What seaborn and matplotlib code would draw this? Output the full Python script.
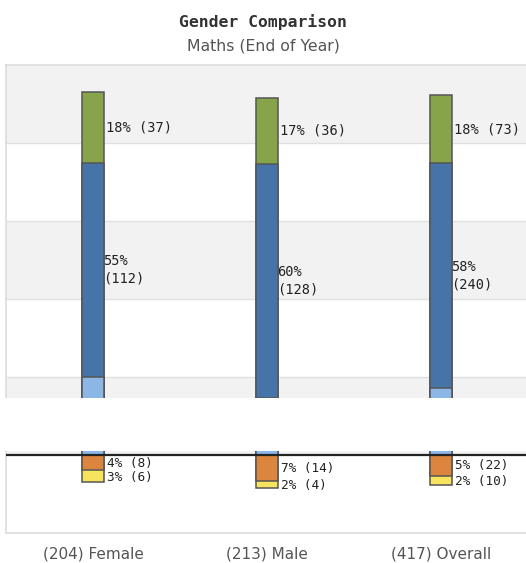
import matplotlib
matplotlib.use("Agg")
import matplotlib.pyplot as plt
import seaborn as sns
import numpy as np
from matplotlib.patches import Rectangle

# Pupil counts per attainment band
groups = ["Female", "Male", "Overall"]
group_totals = [204, 213, 417]
above_counts = [37, 36, 73]       # above expected (green)
expected_counts = [112, 128, 240]  # at expected (blue)
below_counts = [8, 14, 22]        # below expected (orange)
well_below_counts = [6, 4, 10]    # well below expected (yellow)

green_labels = ["18% (37)", "17% (36)", "18% (73)"]
blue_labels = ["55%\n(112)", "60%\n(128)", "58%\n(240)"]
orange_labels = ["4% (8)", "7% (14)", "5% (22)"]
yellow_labels = ["3% (6)", "2% (4)", "2% (10)"]

totals = np.array(group_totals, dtype=float)
above = np.array(above_counts) / totals * 100
expected = np.array(expected_counts) / totals * 100
below = np.array(below_counts) / totals * 100
well_below = np.array(well_below_counts) / totals * 100
# remaining pupils working towards expected (light blue)
towards = 100 - above - expected - below - well_below

C_GREEN = "#88a44a"
C_BLUE = "#4673a8"
C_LBLUE = "#8cb6e6"
C_ORANGE = "#dc853e"
C_YELLOW = "#f8e45c"
EDGE = "#555555"

sns.set_style("white")
fig = plt.figure(figsize=(5.26, 5.63), dpi=100)
W, H = 526, 563
ax = fig.add_axes([6 / W, 30 / H, 522 / W, 468 / H])

# banded background
for lo, hi, c in [(80, 100, "#f2f2f2"), (60, 80, "white"), (40, 60, "#f2f2f2"),
                  (20, 40, "white"), (0, 20, "#f2f2f2"), (-20, 0, "white")]:
    ax.axhspan(lo, hi, color=c, zorder=0, lw=0)
for g in [20, 40, 60, 80]:
    ax.axhline(g, color="#e0e0e0", lw=1, zorder=0.5)

bw = 0.126
labels_x = [f"({n}) {g}" for n, g in zip(group_totals, groups)]
common = dict(width=bw, edgecolor=EDGE, linewidth=1.1, saturation=1,
              errorbar=None, ax=ax, zorder=2)

# stacked positive segments, drawn from the cumulative top down
sns.barplot(x=labels_x, y=towards + expected + above, color=C_GREEN, **common)
sns.barplot(x=labels_x, y=towards + expected, color=C_BLUE, **common)
sns.barplot(x=labels_x, y=towards, color=C_LBLUE, **common)
# negative segments
sns.barplot(x=labels_x, y=-(below + well_below), color=C_YELLOW, **common)
sns.barplot(x=labels_x, y=-below, color=C_ORANGE, **common)

ax.axhline(0, color="#222222", lw=1.6, zorder=3)

mono = "DejaVu Sans Mono"
for i in range(3):
    xr = i + bw / 2
    ax.text(xr + 0.01, towards[i] + expected[i] + above[i] / 2, green_labels[i],
            fontsize=9.8, family=mono, va="center", ha="left", color="#222", zorder=4)
    ax.text(xr - 0.005, towards[i] + expected[i] / 2, blue_labels[i],
            fontsize=9.8, family=mono, va="center", ha="left", color="#222",
            linespacing=1.3, zorder=4)
    ax.text(xr + 0.02, -below[i] / 2 - 0.1, orange_labels[i],
            fontsize=9.2, family=mono, va="center", ha="left", color="#222", zorder=4)
    ax.text(xr + 0.02, -below[i] - well_below[i] / 2 - 0.4, yellow_labels[i],
            fontsize=9.2, family=mono, va="center", ha="left", color="#222", zorder=4)

ax.set_xlim(-0.5, 2.5)
ax.set_ylim(-20, 100)
ax.set_yticks([])
ax.set_xlabel("")
ax.set_ylabel("")
ax.tick_params(axis="x", length=0, pad=10, labelsize=11, labelcolor="#555555")
for s in ax.spines.values():
    s.set_color("#dddddd")
    s.set_linewidth(1.2)

fig.text(0.5, 1 - 22 / H, "Gender Comparison", ha="center", va="center",
         fontsize=11.8, family=mono, fontweight="bold", color="#333333")
fig.text(0.5, 1 - 46 / H, "Maths (End of Year)", ha="center", va="center",
         fontsize=11.3, color="#555555")

# blank strip across the lower part of the plot
fig.add_artist(Rectangle((0, (H - 451) / H), 1, 53 / H, transform=fig.transFigure,
                         facecolor="white", edgecolor="none", zorder=5))

fig.savefig("out.png", dpi=100)
